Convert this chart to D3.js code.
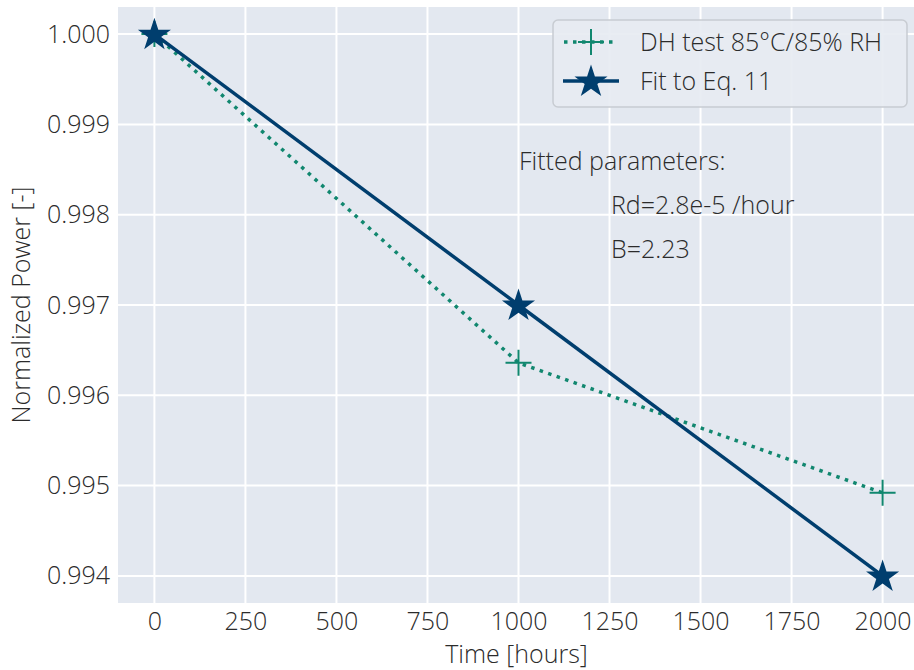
<!DOCTYPE html>
<html>
  <head>
    <meta charset="utf-8">
    <title>DH test</title>
    <style>
      body { margin: 0; background: white; }
      text { font-family: "Open Sans", sans-serif; font-weight: 300; fill: #2b2b2b; }
      .grid line { stroke: white; stroke-width: 2; }
    </style>
  </head>
  <body>
    <svg width="914" height="670"></svg>
    <script src="https://d3js.org/d3.v7.min.js"></script>
    <script type="application/javascript">
      const hours = [0, 1000, 2000];
      const dhPower = [1.000, 0.99636, 0.99492];
      const fitPower = [1.000, 0.997, 0.994];
      const xTicks = [0, 250, 500, 750, 1000, 1250, 1500, 1750, 2000];
      const yTicks = [0.994, 0.995, 0.996, 0.997, 0.998, 0.999, 1.000];
      const seriesNames = ['DH test 85°C/85% RH', 'Fit to Eq. 11'];
      const notes = ['Fitted parameters:', 'Rd=2.8e-5 /hour', 'B=2.23'];

      const green = '#11876f';
      const blue = '#003e6e';
      const fs = '25px';

      const svg = d3.select('svg');
      const plotLeft = 118, plotRight = 919, plotTop = 7, plotBottom = 603;

      const x = d3.scaleLinear().domain([-100, 2100]).range([plotLeft, plotRight]);
      const y = d3.scaleLinear().domain([0.9937, 1.0003]).range([plotBottom, plotTop]);

      svg.append('rect')
        .attr('x', plotLeft).attr('y', plotTop)
        .attr('width', plotRight - plotLeft).attr('height', plotBottom - plotTop)
        .attr('fill', '#e3e8f0');

      const grid = svg.append('g').attr('class', 'grid');
      grid.selectAll('.gx').data(xTicks).enter().append('line')
        .attr('x1', d => x(d)).attr('x2', d => x(d))
        .attr('y1', plotTop).attr('y2', plotBottom);
      grid.selectAll('.gy').data(yTicks).enter().append('line')
        .attr('x1', plotLeft).attr('x2', plotRight)
        .attr('y1', d => y(d)).attr('y2', d => y(d));

      // axes (no lines, only labels)
      const xAxis = svg.append('g')
        .attr('transform', `translate(0,${plotBottom})`)
        .call(d3.axisBottom(x).tickValues(xTicks).tickFormat(d3.format('d')).tickSize(0).tickPadding(9));
      const yAxis = svg.append('g')
        .attr('transform', `translate(${plotLeft},0)`)
        .call(d3.axisLeft(y).tickValues(yTicks).tickFormat(d3.format('.3f')).tickSize(0).tickPadding(8));
      [xAxis, yAxis].forEach(a => {
        a.select('.domain').remove();
        a.selectAll('text').style('font-size', fs).attr('fill', '#2b2b2b')
          .style('font-family', '"Open Sans", sans-serif').style('font-weight', 300);
      });

      svg.append('text')
        .attr('x', (plotLeft + plotRight) / 2 - 2).attr('y', 663)
        .attr('text-anchor', 'middle').style('font-size', fs)
        .text('Time [hours]');
      svg.append('text')
        .attr('transform', `translate(30,${(plotTop + plotBottom) / 2}) rotate(-90)`)
        .attr('text-anchor', 'middle').style('font-size', fs)
        .text('Normalized Power [-]');

      const dhData = hours.map((h, i) => [h, dhPower[i]]);
      const fitData = hours.map((h, i) => [h, fitPower[i]]);
      const line = d3.line().x(d => x(d[0])).y(d => y(d[1]));

      svg.append('path').datum(dhData)
        .attr('d', line).attr('fill', 'none')
        .attr('stroke', green).attr('stroke-width', 3.5)
        .attr('stroke-dasharray', '3.5 5.5');

      const cross = 'M-13,0H13M0,-13V13';
      svg.selectAll('.cross').data(dhData).enter().append('path')
        .attr('d', cross)
        .attr('transform', d => `translate(${x(d[0])},${y(d[1])})`)
        .attr('stroke', green).attr('stroke-width', 2).attr('fill', 'none');

      svg.append('path').datum(fitData)
        .attr('d', line).attr('fill', 'none')
        .attr('stroke', blue).attr('stroke-width', 3.5);

      const star = d3.symbol().type(d3.symbolStar).size(340);
      svg.selectAll('.star').data(fitData).enter().append('path')
        .attr('d', star)
        .attr('transform', d => `translate(${x(d[0])},${y(d[1]) + 1})`)
        .attr('fill', blue);

      // annotation
      svg.append('text').attr('x', 519).attr('y', 170).style('font-size', fs).text(notes[0]);
      svg.append('text').attr('x', 611).attr('y', 214).style('font-size', fs).text(notes[1]);
      svg.append('text').attr('x', 611).attr('y', 258).style('font-size', fs).text(notes[2]);

      // legend
      const lg = svg.append('g');
      lg.append('rect')
        .attr('x', 553).attr('y', 20).attr('width', 354).attr('height', 87)
        .attr('rx', 5).attr('fill', '#e7ebf2').attr('fill-opacity', 0.9)
        .attr('stroke', '#c8ccd2').attr('stroke-width', 1.5);
      const rows = [42, 81];
      lg.append('line')
        .attr('x1', 564).attr('x2', 618).attr('y1', rows[0]).attr('y2', rows[0])
        .attr('stroke', green).attr('stroke-width', 3.5).attr('stroke-dasharray', '3.5 5.5');
      lg.append('path').attr('d', cross)
        .attr('transform', `translate(591,${rows[0]})`)
        .attr('stroke', green).attr('stroke-width', 2);
      lg.append('line')
        .attr('x1', 563).attr('x2', 619).attr('y1', rows[1]).attr('y2', rows[1])
        .attr('stroke', blue).attr('stroke-width', 3.5);
      lg.append('path').attr('d', star)
        .attr('transform', `translate(591,${rows[1] + 1})`)
        .attr('fill', blue);
      seriesNames.forEach((name, i) => {
        lg.append('text')
          .attr('x', 640).attr('y', rows[i] + 9)
          .style('font-size', fs).text(name);
      });
    </script>
  </body>
</html>
